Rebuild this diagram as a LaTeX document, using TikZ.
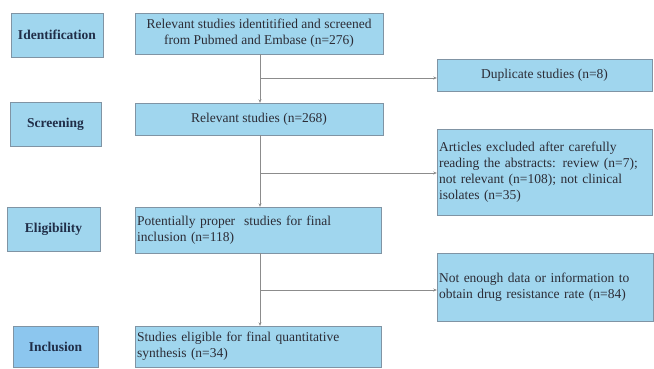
\documentclass[tikz,border=0pt]{standalone}
\usepackage{fontspec}
\setmainfont{Liberation Serif}
\usetikzlibrary{arrows.meta}
\definecolor{boxblue}{RGB}{160,214,238}
\definecolor{stageblue}{RGB}{140,198,238}
\definecolor{boxline}{RGB}{128,148,164}
\definecolor{stagetext}{RGB}{32,46,72}
\definecolor{flowtext}{RGB}{44,44,54}
\definecolor{flowline}{RGB}{140,140,140}
\begin{document}
\begin{tikzpicture}[x=1bp,y=-1bp,
        box/.style={draw=boxline, fill=boxblue, inner sep=2bp, text=flowtext,
            font=\fontsize{13.5bp}{16bp}\selectfont},
        stage/.style={box, font=\fontsize{13.5bp}{16bp}\selectfont\bfseries, text=stagetext},
        flow/.style={draw=flowline, line width=0.6bp},
        arr/.style={flow, -{Stealth[length=3.5bp,width=3bp]}}]
        \useasboundingbox (0,0) rectangle (654,368);
    %Stages
        \node[stage, minimum width=92bp, minimum height=44bp] (ident) at (57,35) {Identification};
        \node[stage, minimum width=91bp, minimum height=44bp] (screen) at (55.5,124) {Screening};
        \node[stage, minimum width=93bp, minimum height=44bp] (elig) at (53.5,229) {Eligibility};
        \node[stage, fill=stageblue, minimum width=85bp, minimum height=41bp] (incl) at (55.5,346.5) {Inclusion};
    %Main boxes
        \node[box, minimum width=248bp, minimum height=41bp, align=center] (found) at (259,33.5)
            {Relevant studies identitified and screened\\from Pubmed and Embase (n=276)};
        \node[box, minimum width=248bp, minimum height=32bp] (relevant) at (259,119) {Relevant studies (n=268)};
        \node[box, minimum width=246bp, minimum height=46bp, text width=242bp, align=left] (proper) at (258,230)
            {Potentially proper\ \ studies for final\\inclusion (n=118)};
        \node[box, minimum width=246bp, minimum height=41bp, text width=242bp, align=left] (final) at (258,346.5)
            {Studies eligible for final quantitative\\synthesis (n=34)};
    %Excluded boxes
        \node[box, minimum width=215bp, minimum height=32bp] (dup) at (544.5,75) {Duplicate studies (n=8)};
        \node[box, minimum width=215bp, minimum height=86bp, text width=211bp, align=left] (abstr) at (544.5,172)
            {Articles excluded after carefully\\reading the abstracts: review (n=7);\\not relevant (n=108); not clinical\\isolates (n=35)};
        \node[box, minimum width=216bp, minimum height=68bp, text width=212bp, align=left] (nodata) at (545,287)
            {Not enough data or information to\\obtain drug resistance rate (n=84)};
    %Arrows
        \coordinate (b1) at (260,78);
        \coordinate (b2) at (260,173);
        \coordinate (b3) at (260,290);
        \draw[arr] (found.south -| b1) -- (relevant.north -| b1);
        \draw[arr] (relevant.south -| b2) -- (proper.north -| b2);
        \draw[arr] (proper.south -| b3) -- (final.north -| b3);
        \draw[arr] (b1) -- (b1 -| dup.west);
        \draw[arr] (b2) -- (b2 -| abstr.west);
        \draw[arr] (b3) -- (b3 -| nodata.west);
\end{tikzpicture}
\end{document}
